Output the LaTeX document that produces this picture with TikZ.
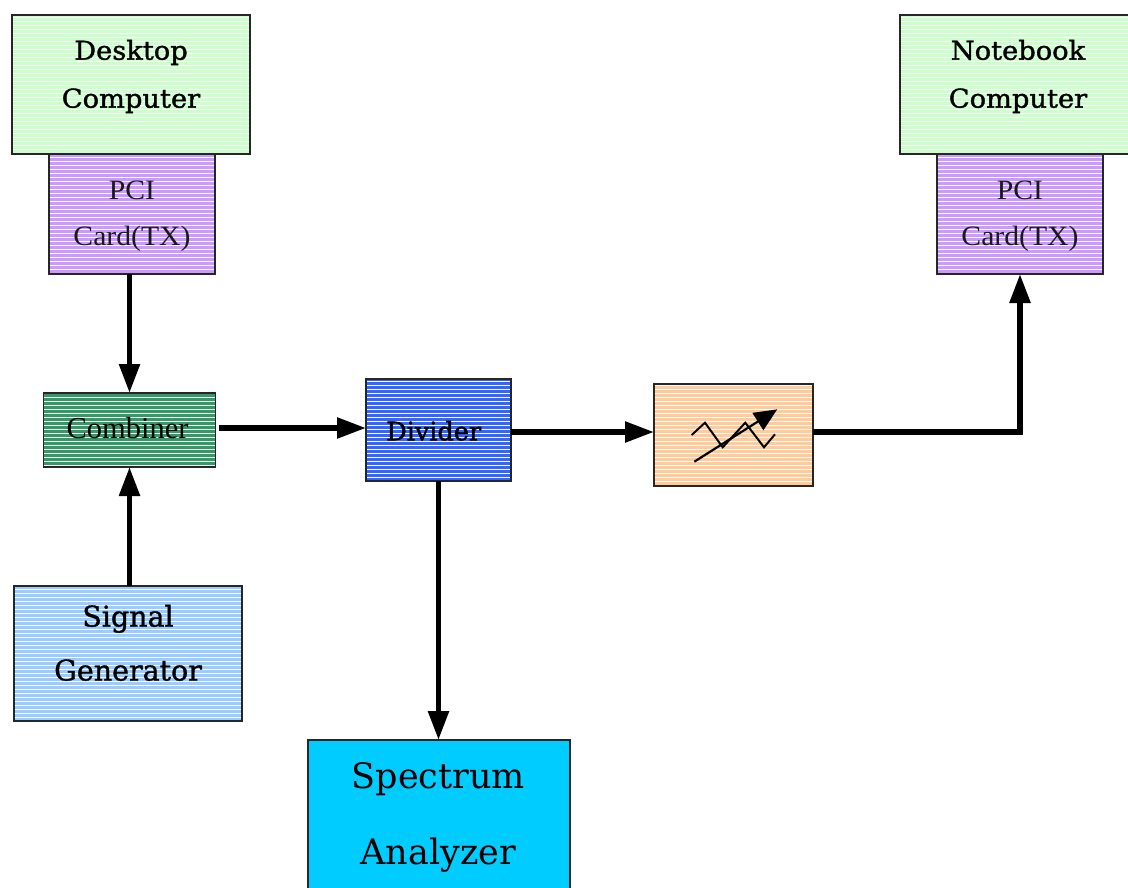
\documentclass[tikz,border=0pt]{standalone}
\usepackage{fontspec}
\setmainfont{DejaVu Serif}
\newfontfamily\medserif{DejaVu Serif}[FakeBold=1.2]
\newfontfamily\boldishserif{DejaVu Serif}[FakeBold=1.8]
\newfontfamily\wideserif{DejaVu Serif}[FakeStretch=1.05,FakeBold=1.4]
\newfontfamily\thinserif{Liberation Serif}[FakeStretch=1.06]
\newfontfamily\plainthin{Liberation Serif}
\usetikzlibrary{arrows.meta,patterns,calc}
\pgfdeclarepatternformonly{hlfine}{\pgfqpoint{-1pt}{-1pt}}{\pgfqpoint{5pt}{5pt}}{\pgfqpoint{4pt}{4pt}}{\pgfsetlinewidth{1pt}\pgfpathmoveto{\pgfqpoint{-0.1pt}{2pt}}\pgfpathlineto{\pgfqpoint{4.1pt}{2pt}}\pgfusepath{stroke}}
\definecolor{cgreen}{HTML}{CCFFCC}
\definecolor{cpurple}{HTML}{CC99FF}
\definecolor{cdkgreen}{HTML}{339966}
\definecolor{cblue}{HTML}{3366FF}
\definecolor{corange}{HTML}{FFCC99}
\definecolor{cltblue}{HTML}{99CCFF}
\definecolor{ccyan}{HTML}{00CCFF}
\tikzset{
  box/.style={draw=black!85, line width=1.6pt, rectangle, inner sep=0pt, outer sep=0pt},
  striped/.style={box, preaction={fill=#1}, pattern=hlfine, pattern color=white},
  lbl/.style={align=center, inner sep=0pt, text=black},
  arr/.style={line width=5.5pt, -{Triangle[length=29pt,width=20pt]}},
}
\begin{document}
\begin{tikzpicture}[x=1pt,y=-1pt]
\fill[white] (0,0) rectangle (1128,888);
\useasboundingbox (0,0) rectangle (1128,888);

% boxes
\node[striped=cgreen, minimum width=238pt, minimum height=139pt] (desk) at (131,84.5) {};
\node[striped=cpurple, minimum width=166pt, minimum height=120pt] (pci1) at (132,214) {};
\node[striped=cgreen, minimum width=232pt, minimum height=139pt] (note) at (1016,84.5) {};
\node[striped=cpurple, minimum width=166pt, minimum height=120pt] (pci2) at (1020,214) {};
\node[striped=cdkgreen, minimum width=172pt, minimum height=74pt] (comb) at (129.5,430) {};
\node[striped=cblue, minimum width=145pt, minimum height=102pt] (div) at (438.5,430) {};
\node[striped=corange, minimum width=159pt, minimum height=102pt] (att) at (733.5,435) {};
\node[striped=cltblue, minimum width=228pt, minimum height=135pt] (sig) at (128,653.5) {};
\node[box, fill=ccyan, minimum width=262pt, minimum height=160pt] (spec) at (439,820) {};

% labels
\node[lbl, font=\wideserif\fontsize{26}{48}\selectfont] (deskt) at (131,76.5) {Desktop\\Computer};
\node[lbl, font=\wideserif\fontsize{26}{48}\selectfont] (notet) at (1018,76.5) {Notebook\\Computer};
\node[lbl, font=\thinserif\fontsize{28}{46.7}\selectfont, text=black!90] (pci1t) at (132,216.2) {PCI\\Card(TX)};
\node[lbl, font=\thinserif\fontsize{28}{46.7}\selectfont, text=black!90] (pci2t) at (1020,216.2) {PCI\\Card(TX)};
\node[lbl, font=\plainthin\fontsize{30.5}{34}\selectfont, text=black] (combt) at (127.5,428.5) {Combiner};
\node[lbl, font=\boldishserif\fontsize{25.5}{30}\selectfont] (divt) at (433.7,430.8) {Divider};
\node[lbl, font=\medserif\fontsize{28.5}{54}\selectfont] (sigt) at (128,642.9) {Signal\\Generator};
\node[lbl, font=\fontsize{35}{76}\selectfont] (spect) at (438.3,817.2) {Spectrum\\Analyzer};

% attenuator symbol
\begin{scope}[shift={(att.center)}]
  \draw[line width=2pt] (-41.8,0) -- (-28.5,-12.3) -- (-10.8,12.3) -- (11.8,-12.3) -- (30.5,12.3) -- (41.5,-0.7);
  \draw[line width=2.2pt, -{Triangle[length=23pt,width=20pt]}] (-39.2,26.7) -- (43.8,-25.7);
\end{scope}

% connectors
\draw[arr] (comb.north |- pci1.south) -- (comb.north);
\draw[arr] (sig.north -| comb.south) -- (comb.south);
\draw[arr, shorten <=3pt] ([yshift=2pt]comb.east) -- ([yshift=2pt]comb.east -| div.west);
\draw[arr] ([yshift=-2pt]div.east) -- ([yshift=-2pt]div.east -| att.west);
\draw[arr] (div.south) -- (div.south |- spec.north);
\draw[arr] ([yshift=3pt]att.east) -| (pci2.south);
\end{tikzpicture}
\end{document}
